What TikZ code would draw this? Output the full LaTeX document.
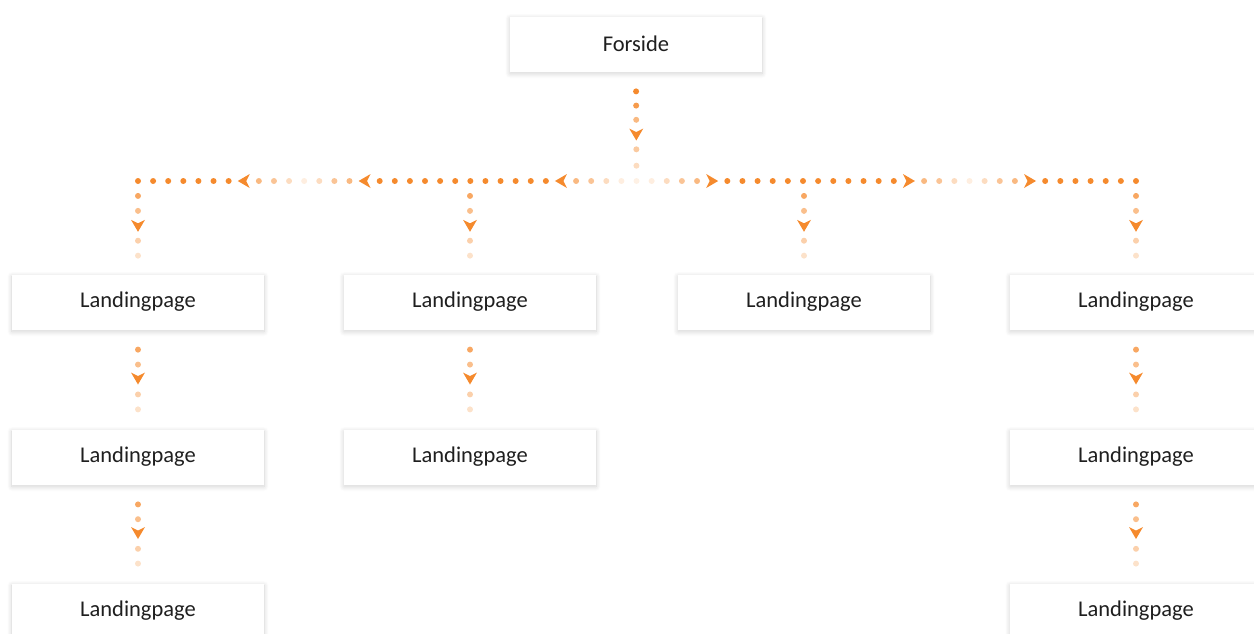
\documentclass[tikz,border=0pt]{standalone}
\usepackage{fontspec}
\setmainfont{Carlito}
\usetikzlibrary{shadows.blur}
\definecolor{linkorange}{RGB}{245,138,45}

\tikzset{
  page/.style={rectangle, fill=white, minimum width=252pt, minimum height=55pt, inner sep=0pt,
    text=black!88, font=\fontsize{22.5}{27}\selectfont,
    blur shadow={shadow xshift=0pt, shadow yshift=-2pt, shadow blur radius=5pt, shadow blur steps=10, shadow opacity=18}},
  dot/.style={circle, fill=linkorange, draw=none, inner sep=0pt, minimum size=6pt},
  chev/.pic={\fill[linkorange] (6,0) -- (-6,-7) -- (-2.5,0) -- (-6,7) -- cycle;}
}

\begin{document}
\begin{tikzpicture}[x=1pt, y=-1pt]
      \useasboundingbox (0,0) rectangle (1254,633);
      \clip (0,0) rectangle (1254,633);
      \node[page] (fs) at (636,44) {Forside};
      \node[page] (lp1) at (138,302) {Landingpage};
      \node[page] (lp2) at (470,302) {Landingpage};
      \node[page] (lp3) at (804,302) {Landingpage};
      \node[page] (lp4) at (1136,302) {Landingpage};
      \node[page] (lp5) at (138,457) {Landingpage};
      \node[page] (lp6) at (470,457) {Landingpage};
      \node[page] (lp7) at (1136,457) {Landingpage};
      \node[page] (lp8) at (138,611) {Landingpage};
      \node[page] (lp9) at (1136,611) {Landingpage};

      \coordinate (hub) at (636.5,181);
      \coordinate (c1) at (lp1 |- hub);
      \coordinate (c2) at (lp2 |- hub);
      \coordinate (c3) at (lp3 |- hub);
      \coordinate (c4) at (lp4 |- hub);

      \foreach \p/\op in {.18/1,.31/.85,.44/.6,.71/.45,.86/.3}
        \path (fs.south) -- (hub) node[dot, opacity=\op, pos=\p]{};
      \path (fs.south) -- (hub) pic[pos=.575, sloped, allow upside down]{chev};
      \node[dot, opacity=.12] at (hub) {};

      \foreach \c in {c1,c4}{
        \foreach \k/\op [evaluate=\k as \p using \k/33] in {1/.15,2/.3,3/.5,4/.6,19/.6,20/.5,21/.3,22/.15,23/.3,24/.5,25/.6}
          \path (hub) -- (\c) node[dot, opacity=\op, pos=\p]{};
        \foreach \k [evaluate=\k as \p using \k/33] in {6,...,17}
          \path (hub) -- (\c) node[dot, pos=\p]{};
        \foreach \k [evaluate=\k as \p using \k/33] in {27,...,33}
          \path (hub) -- (\c) node[dot, pos=\p]{};
        \foreach \k [evaluate=\k as \p using \k/33] in {5,18,26}
          \path (hub) -- (\c) pic[pos=\p, sloped, allow upside down]{chev};
      }

      \foreach \c/\l in {c1/lp1,c2/lp2,c3/lp3,c4/lp4}{
        \foreach \p/\op in {.16/.75,.32/.55,.64/.4,.8/.25}
          \path (\c) -- (\l.north) node[dot, opacity=\op, pos=\p]{};
        \path (\c) -- (\l.north) pic[pos=.48, sloped, allow upside down]{chev};
      }

      \foreach \a/\b in {lp1/lp5,lp5/lp8,lp2/lp6,lp4/lp7,lp7/lp9}{
        \foreach \p/\op in {.2/.75,.35/.55,.65/.4,.8/.25}
          \path (\a.south) -- (\b.north) node[dot, opacity=\op, pos=\p]{};
        \path (\a.south) -- (\b.north) pic[pos=.49, sloped, allow upside down]{chev};
      }
\end{tikzpicture}
\end{document}
